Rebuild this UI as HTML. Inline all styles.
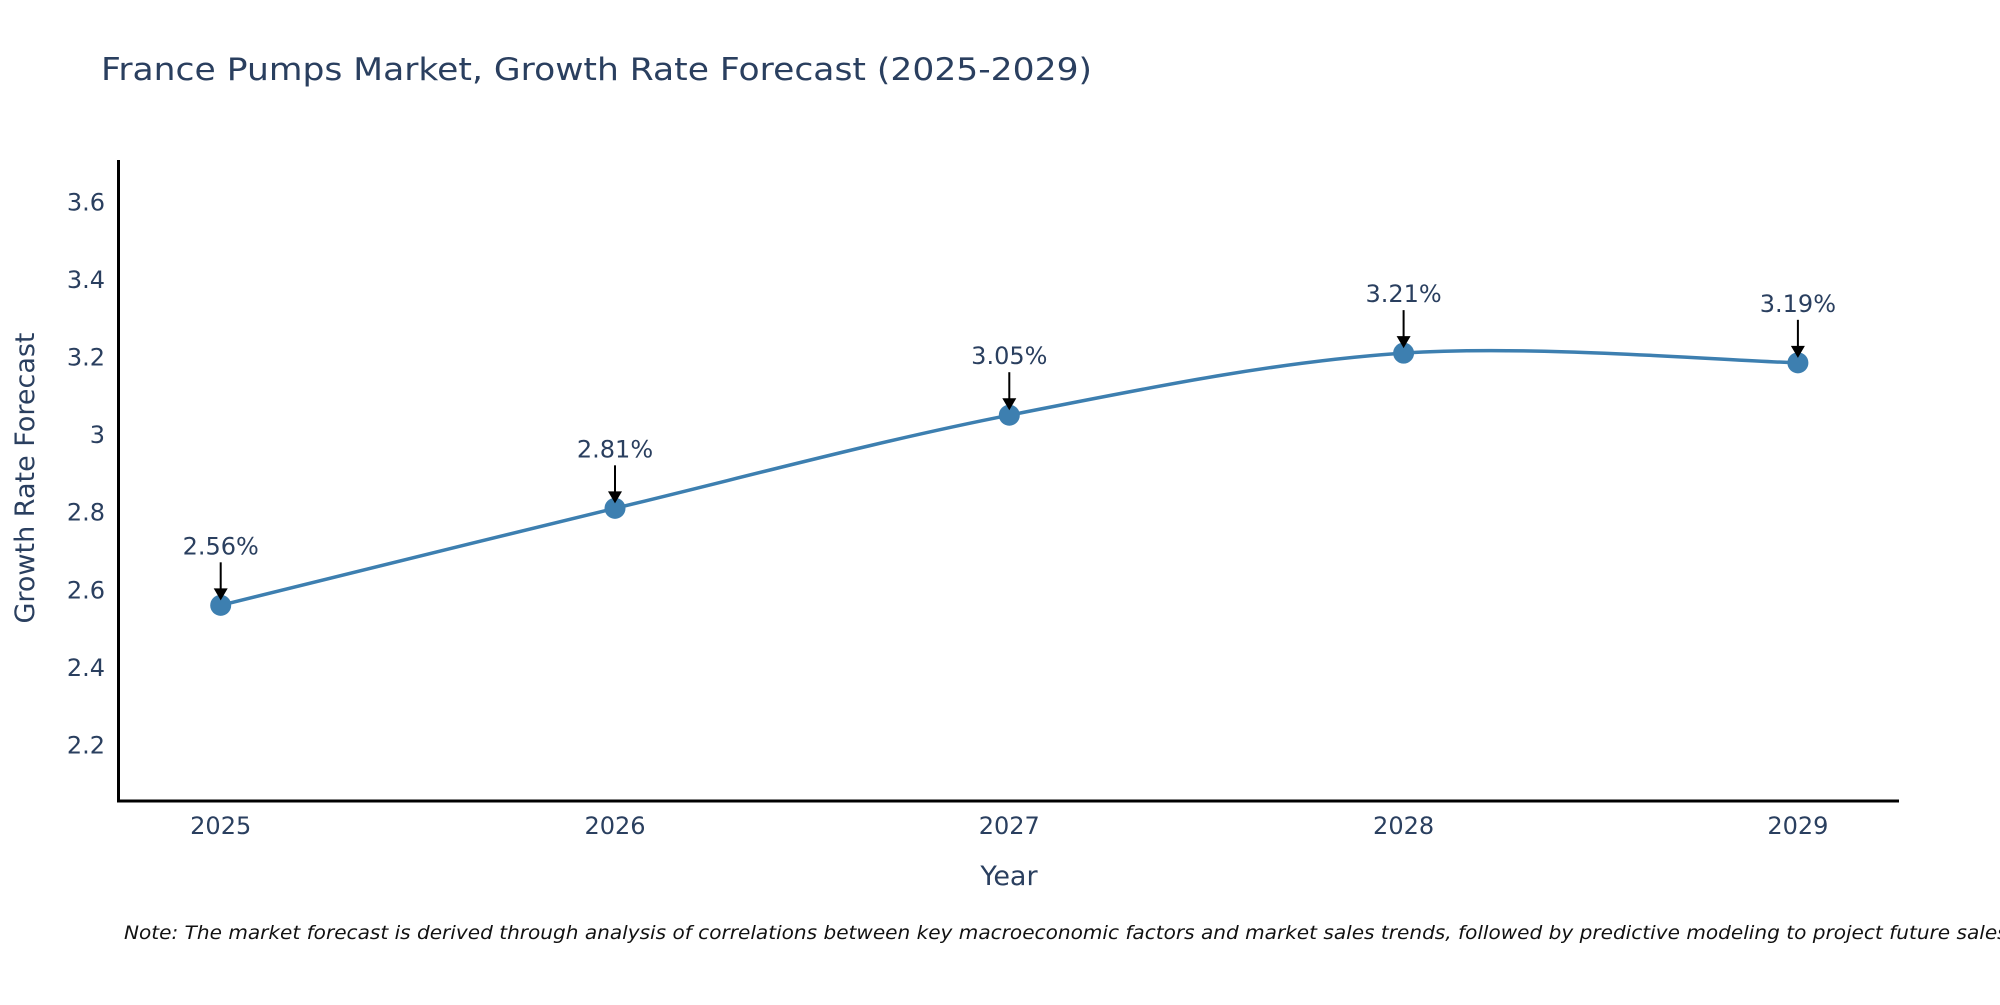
<!DOCTYPE html>
<html><head><meta charset="utf-8"><style>
html,body{margin:0;padding:0;background:#fff;}
svg text{font-family:"DejaVu Sans","Liberation Sans",sans-serif;fill:#2a3f5f;}
</style></head><body>
<svg id="chart" width="2000" height="1000" viewBox="0 0 2000 1000" xmlns="http://www.w3.org/2000/svg">
<rect width="2000" height="1000" fill="#fff"/>
<text x="101" y="80" font-size="31" textLength="991" lengthAdjust="spacingAndGlyphs">France Pumps Market, Growth Rate Forecast (2025-2029)</text>
<g id="yticks"></g><g id="xticks"></g>
<line x1="118.5" y1="160" x2="118.5" y2="802" stroke="#000" stroke-width="3"/>
<line x1="117" y1="801" x2="1899" y2="801" stroke="#000" stroke-width="3"/>
<path id="line" fill="none" stroke="#3d7fb0" stroke-width="3.5"/>
<g id="marks"></g>
<text x="1009" y="885" font-size="27" text-anchor="middle">Year</text>
<text transform="translate(34,478) rotate(-90)" font-size="27" text-anchor="middle">Growth Rate Forecast</text>
<text x="124" y="939" font-size="19" font-style="italic" style="fill:#111" textLength="1890" lengthAdjust="spacingAndGlyphs">Note: The market forecast is derived through analysis of correlations between key macroeconomic factors and market sales trends, followed by predictive modeling to project future sales.</text>
</svg>
<script>
const years=[2025,2026,2027,2028,2029];
const values=[2.56,2.81,3.05,3.21,3.185];
const labels=["2.56%","2.81%","3.05%","3.21%","3.19%"];
const yTicks=[2.2,2.4,2.6,2.8,3,3.2,3.4,3.6];
const NS="http://www.w3.org/2000/svg";
function xs(y){return 220.7+(y-2025)*394.3;}
function ys(v){return 745-(v-2.2)/0.2*77.6;}
function mk(tag,attrs,parent){const e=document.createElementNS(NS,tag);for(const k in attrs)e.setAttribute(k,attrs[k]);parent.appendChild(e);return e;}
const yg=document.getElementById('yticks');
yTicks.forEach(t=>{const e=mk('text',{x:105,y:ys(t)+8.5,'font-size':24,'text-anchor':'end'},yg);


e.textContent=String(t);});
const xg=document.getElementById('xticks');
years.forEach(y=>{const e=mk('text',{x:xs(y),y:834,'font-size':24,'text-anchor':'middle'},xg);


e.textContent=String(y);});
const P=years.map((y,i)=>[xs(y),ys(values[i])]);
let d='M'+P[0][0]+','+P[0][1];
for(let i=0;i<P.length-1;i++){const p0=P[Math.max(0,i-1)],p1=P[i],p2=P[i+1],p3=P[Math.min(P.length-1,i+2)];
const c1=[p1[0]+(p2[0]-p0[0])/6,p1[1]+(p2[1]-p0[1])/6],c2=[p2[0]-(p3[0]-p1[0])/6,p2[1]-(p3[1]-p1[1])/6];
d+=` C${c1[0]},${c1[1]} ${c2[0]},${c2[1]} ${p2[0]},${p2[1]}`;}
document.getElementById('line').setAttribute('d',d);
const mg=document.getElementById('marks');
P.forEach((p,i)=>{
const c=mk('circle',{cx:p[0],cy:p[1],r:10.5,fill:'#3d7fb0'},mg);


const l=mk('line',{x1:p[0],y1:p[1]-43,x2:p[0],y2:p[1]-16,stroke:'#000','stroke-width':2},mg);


const h=mk('path',{d:`M${p[0]-7},${p[1]-17} L${p[0]+7},${p[1]-17} L${p[0]},${p[1]-5} Z`,fill:'#000'},mg);


const t=mk('text',{x:p[0],y:p[1]-51,'font-size':24,'text-anchor':'middle'},mg);


t.textContent=labels[i];
});
</script>
</body></html>
